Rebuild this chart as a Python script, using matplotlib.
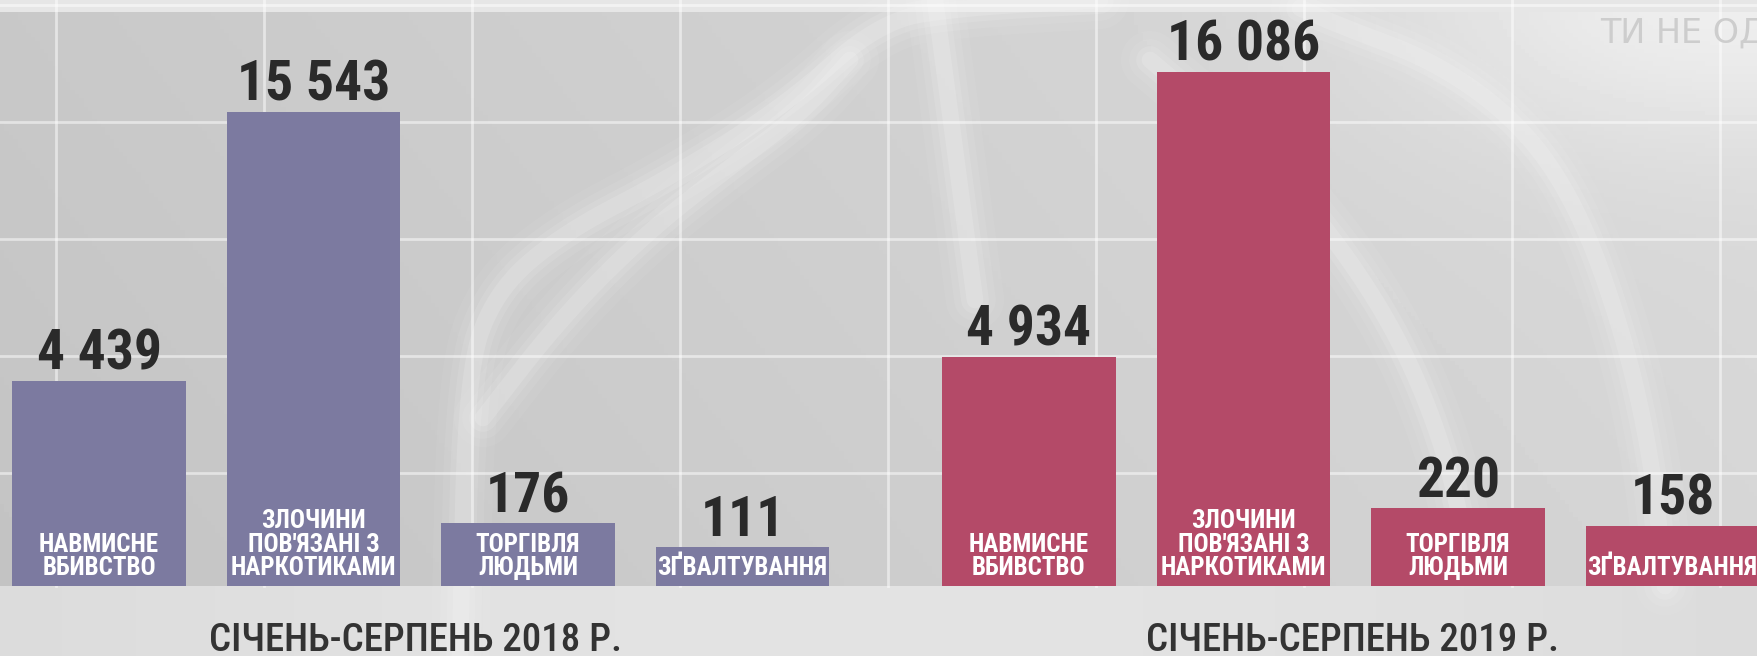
import numpy as np
import matplotlib
matplotlib.use("Agg")
import matplotlib.pyplot as plt

# crime counts, Jan-Aug of each year
categories = ["НАВМИСНЕ\nВБИВСТВО", "ЗЛОЧИНИ\nПОВ'ЯЗАНІ З\nНАРКОТИКАМИ", "ТОРГІВЛЯ\nЛЮДЬМИ", "ЗҐВАЛТУВАННЯ"]
values_2018 = [4439, 15543, 176, 111]
values_2019 = [4934, 16086, 220, 158]
value_labels_2018 = ["4 439", "15 543", "176", "111"]
value_labels_2019 = ["4 934", "16 086", "220", "158"]
period_2018 = "СІЧЕНЬ-СЕРПЕНЬ 2018 Р."
period_2019 = "СІЧЕНЬ-СЕРПЕНЬ 2019 Р."

FONT = ["Roboto Condensed", "DejaVu Sans"]
W, H = 1758, 656

# the infographic lifts the small bars so their captions fit: a stretched value axis
LIFT = 4024.0
KNEE = 144.0
_grid = np.linspace(0, 60000, 600001)


def lifted(v):
    v = np.asarray(v, dtype=float)
    return v + LIFT * v ** 2 / (v ** 2 + KNEE ** 2)


_lifted_grid = lifted(_grid)


def unlifted(y):
    return np.interp(y, _lifted_grid, _grid)


def smooth(pts, rounds=4):
    # chaikin corner cutting, just to soften the decorative strands
    pts = np.asarray(pts, dtype=float)
    for _ in range(rounds):
        p, q = pts[:-1], pts[1:]
        mid = np.empty((2 * len(p), 2))
        mid[0::2] = 0.75 * p + 0.25 * q
        mid[1::2] = 0.25 * p + 0.75 * q
        pts = np.vstack([pts[:1], mid, pts[-1:]])
    return pts


fig = plt.figure(figsize=(W / 100, H / 100), dpi=100)

# background: grey photo-like panel, white grid and a few blurred helix strands
bg = fig.add_axes([0, 0, 1, 1], zorder=0)
xx = np.linspace(0, 1, 400)[None, :]
yy = np.linspace(0, 1, 160)[:, None]
shade = 0.765 + 0.07 * xx + 0.02 * (1 - yy)
shade = shade + 0.08 * np.exp(-((xx - 0.97) ** 2 / 0.03 + yy ** 2 / 0.05))
shade = np.where(yy > 586 / H, 0.86 + 0.03 * np.sin(np.pi * xx), shade)
shade = np.where(yy < 9 / H, 0.9, shade)
bg.imshow(np.clip(shade, 0, 1), cmap="gray", vmin=0, vmax=1, extent=(0, W, H, 0), aspect="auto")

strands = [
    [(460, 656), (466, 377), (494, 293), (561, 234), (673, 176), (786, 105), (880, 21), (960, 8), (1100, 0)],
    [(483, 418), (561, 318), (645, 234), (730, 167), (802, 113), (850, 60)],
    [(1300, 8), (1338, 25), (1439, 63), (1523, 126), (1579, 209), (1624, 335), (1652, 460), (1665, 586)],
    [(935, 0), (955, 150), (975, 300)],
    [(1150, 60), (1280, 170), (1380, 300), (1440, 430), (1470, 560)],
]
for pts in strands:
    sp = smooth(pts)
    for lw, a in [(42, 0.05), (30, 0.07), (20, 0.1), (12, 0.14)]:
        bg.plot(sp[:, 0], sp[:, 1], color="white", lw=lw, alpha=a, solid_capstyle="round",
                solid_joinstyle="round")

for gx in np.arange(56, W, 208):
    bg.plot([gx, gx], [0, 586], color="white", lw=2, alpha=0.5)
for gy in np.arange(5, 586, 117):
    bg.plot([0, W], [gy, gy], color="white", lw=2, alpha=0.5)
bg.set_xlim(0, W)
bg.set_ylim(H, 0)
bg.axis("off")
bg.text(1600, 33, "ТИ НЕ ОДИН", color="#cdcdcd", fontsize=24,
        family="DejaVu Sans", va="center")


def draw_panel(rect, values, value_labels, color, xlim, ytop):
    ax = fig.add_axes(rect, zorder=1)
    ax.set_facecolor("none")
    ax.set_yscale("function", functions=(lifted, unlifted))
    x = np.arange(len(values))
    bars = ax.bar(x, values, width=0.81, color=color)
    for bar, lab, cat in zip(bars, value_labels, categories):
        cx = bar.get_x() + bar.get_width() / 2
        ax.annotate(lab, (cx, bar.get_height()), xytext=(0, 8), textcoords="offset points",
                    ha="center", va="baseline", fontsize=40, weight="bold",
                    color="#2a2a2a", family=FONT)
        ax.annotate(cat, (cx, 0), xytext=(0, 4), textcoords="offset points",
                    ha="center", va="bottom", fontsize=18, weight="bold",
                    color="white", family=FONT, linespacing=0.98)
    ax.set_xlim(*xlim)
    ax.set_ylim(0, ytop)
    ax.axis("off")
    return ax


base = (H - 586) / H
draw_panel([0, base, 0.5, 1 - base], values_2018, value_labels_2018, "#7c7aa0",
           (-0.4615, 3.636), 20160)
draw_panel([0.5, base, 0.5, 1 - base], values_2019, value_labels_2019, "#b44a68",
           (-0.699, 3.399), 18900)

fig.text(416 / W, 5 / H, period_2018, ha="center", va="baseline", fontsize=28,
         color="#333333", family=FONT, weight="medium")
fig.text(1352 / W, 5 / H, period_2019, ha="center", va="baseline", fontsize=28,
         color="#333333", family=FONT, weight="medium")

fig.savefig("out.png", dpi=100)
